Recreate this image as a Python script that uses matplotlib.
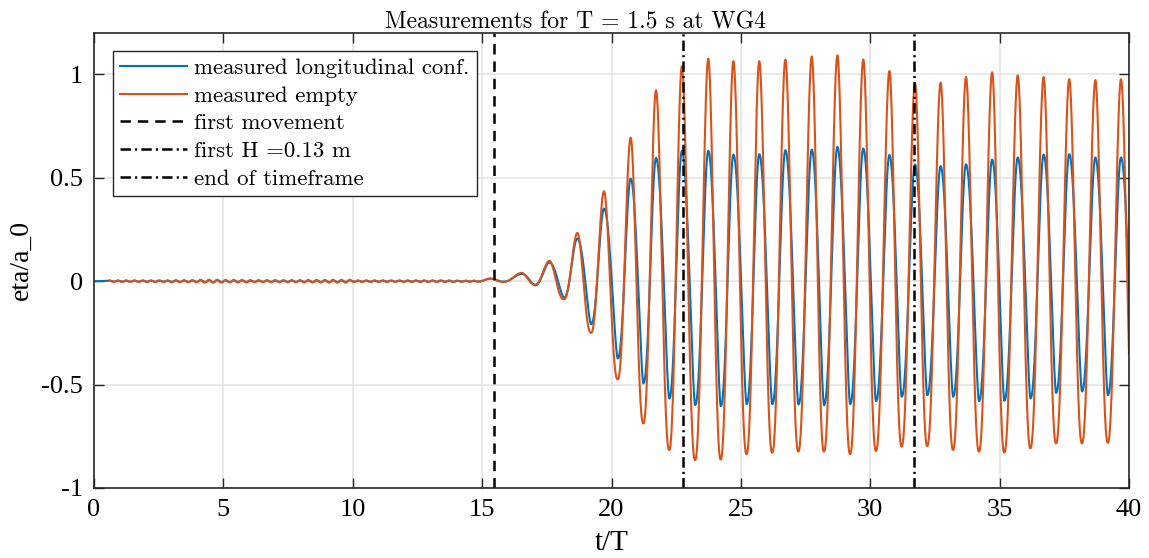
import numpy as np
import matplotlib
matplotlib.use("Agg")
import matplotlib.pyplot as plt
from matplotlib.lines import Line2D

# ---------------- data ----------------
# wave extrema (t/T, eta/a_0) – measured empty
empty_t = [15.30, 15.80, 16.53, 17.04, 17.60, 18.16, 18.68, 19.21, 19.71, 20.24,
           20.74, 21.23, 21.72, 22.23, 22.72, 23.23, 23.74, 24.22, 24.71, 25.22,
           25.71, 26.21, 26.72, 27.22, 27.74, 28.21, 28.73, 29.22, 29.73, 30.22,
           30.74, 31.21, 31.73, 32.20, 32.72, 33.20, 33.70, 34.20, 34.71, 35.18,
           35.70, 36.19, 36.70, 37.18, 37.69, 38.18, 38.70, 39.18, 39.69, 40.19]
empty_y = [0.013, -0.003, 0.040, -0.016, 0.098, -0.088, 0.233, -0.250, 0.435, -0.475,
           0.694, -0.688, 0.923, -0.816, 1.039, -0.865, 1.076, -0.862, 1.064, -0.836,
           1.064, -0.829, 1.071, -0.824, 1.087, -0.824, 1.092, -0.836, 1.072, -0.821,
           1.016, -0.800, 0.958, -0.797, 0.960, -0.816, 0.987, -0.824, 1.010, -0.828,
           0.995, -0.808, 0.987, -0.784, 0.977, -0.784, 0.972, -0.781, 0.977, -0.780]
# measured longitudinal configuration
long_t = empty_t
long_y = [0.012, -0.003, 0.035, -0.020, 0.090, -0.080, 0.206, -0.208, 0.351, -0.374,
          0.496, -0.494, 0.596, -0.567, 0.630, -0.599, 0.630, -0.604, 0.612, -0.594,
          0.614, -0.594, 0.633, -0.596, 0.636, -0.599, 0.649, -0.594, 0.641, -0.580,
          0.610, -0.559, 0.564, -0.551, 0.556, -0.559, 0.565, -0.580, 0.588, -0.578,
          0.598, -0.567, 0.612, -0.540, 0.614, -0.533, 0.598, -0.551, 0.598, -0.550]
# small still-water ripple before the first movement (amplitude per unit of t/T, t = 1..15)
ripple_amp = [0.004, 0.004, 0.004, 0.005, 0.007, 0.006, 0.005, 0.005, 0.006, 0.007,
              0.004, 0.004, 0.004, 0.004, 0.003]
ripple_start_empty = 0.6
ripple_half_period = 0.16

# event markers (t/T)
first_movement = 15.46
first_H = 22.76
end_timeframe = 31.69

title = "Measurements for T = 1.5 s at WG4"
xlabel = "t/T"
ylabel = "eta/a_0"
labels = ["measured longitudinal conf.", "measured empty", "first movement",
          "first H =0.13 m", "end of timeframe"]
xticks = [0, 5, 10, 15, 20, 25, 30, 35, 40]
yticks = [-1, -0.5, 0, 0.5, 1]
yticklabels = ["-1", "-0.5", "0", "0.5", "1"]

# ---------------- build curves through the extrema ----------------
def ripple_extrema(t0, scale):
    ts, ys = [], []
    t = t0
    sign = 1
    while t < 15.0:
        idx = min(int(t), len(ripple_amp) - 1)
        ts.append(t)
        ys.append(sign * ripple_amp[idx] * scale)
        sign = -sign
        t += ripple_half_period
    return ts, ys


def through_extrema(et, ey, t, rise_p, fall_p):
    et = np.asarray(et, float)
    ey = np.asarray(ey, float)
    i = np.clip(np.searchsorted(et, t, side="right") - 1, 0, len(et) - 2)
    t0, t1 = et[i], et[i + 1]
    y0, y1 = ey[i], ey[i + 1]
    s = np.clip((t - t0) / (t1 - t0), 0, 1)
    g = np.where(y1 > y0, s ** rise_p, 1 - (1 - s) ** fall_p)
    return y0 + (y1 - y0) * (1 - np.cos(np.pi * g)) / 2

rt, ry = ripple_extrema(ripple_start_empty, 1.0)
e_t = rt + list(empty_t)
e_y = ry + list(empty_y)
bt, by = ripple_extrema(ripple_start_empty, 0.6)
l_t = [0.0] + bt + list(long_t)
l_y = [0.0] + by + list(long_y)

t_e = np.linspace(ripple_start_empty, 40, 9000)
t_l = np.linspace(0, 40, 9000)
y_e = through_extrema(e_t, e_y, t_e, 1.15, 1.15)
y_l = through_extrema(l_t, l_y, t_l, 1.15, 0.8)

# ---------------- plot ----------------
plt.rcParams["lines.scale_dashes"] = False
serif = ["Liberation Serif", "DejaVu Serif"]
cm = ["cmr10", "Liberation Serif"]

fig = plt.figure(figsize=(11.49, 5.58), dpi=100)
ax = fig.add_axes([94 / 1149, 1 - 488 / 558, 1035 / 1149, 455 / 558])

blue = "#0072BD"
orange = "#D95319"

ax.plot(t_l, y_l, color=blue, lw=1.5)
ax.plot(t_e, y_e, color=orange, lw=1.5)
dash = (0, (7.5, 5.0))
dashdot = (0, (7.5, 3.0, 1.5, 3.0))
ax.axvline(first_movement, color="k", lw=1.8, linestyle=dash)
ax.axvline(first_H, color="k", lw=1.8, linestyle=dashdot)
ax.axvline(end_timeframe, color="k", lw=1.8, linestyle=dashdot)

ax.set_xlim(0, 40)
ax.set_ylim(-1, 1.2)
ax.set_xticks(xticks)
ax.set_xticklabels([str(v) for v in xticks], fontfamily=serif, fontsize=19)
ax.set_yticks(yticks)
ax.set_yticklabels(yticklabels, fontfamily=serif, fontsize=19)
ax.grid(True, color="#e3e3e3", lw=1.1)
ax.set_axisbelow(True)
ax.tick_params(direction="in", length=7.2, width=1.0, color="#262626",
               top=True, right=True, pad=8)
for sp in ax.spines.values():
    sp.set_color("#262626")
    sp.set_linewidth(1.2)

ax.set_title(title, fontfamily=cm, fontsize=17, pad=3, x=(575 - 94) / 1035)
ax.set_xlabel(xlabel, fontfamily=serif, fontsize=21)
ax.set_ylabel(ylabel, fontfamily=serif, fontsize=20)
ax.xaxis.set_label_coords(0.5, -(530 - 488) / 455)
ax.yaxis.set_label_coords(-(94 - 34) / 1035, 0.5)

handles = [Line2D([], [], color=blue, lw=1.5),
           Line2D([], [], color=orange, lw=1.5),
           Line2D([], [], color="k", lw=1.8, linestyle=dash),
           Line2D([], [], color="k", lw=1.8, linestyle=dashdot),
           Line2D([], [], color="k", lw=1.8, linestyle=dashdot)]
leg = ax.legend(handles, labels, loc="upper left",
                bbox_to_anchor=((113 - 94) / 1035, (488 - 50.7) / 455),
                borderaxespad=0, prop={"family": cm, "size": 16.4},
                handlelength=2.95, handletextpad=0.3, labelspacing=0.34,
                borderpad=0.32, fancybox=False, framealpha=1, edgecolor="#262626")
leg.get_frame().set_linewidth(1.0)

fig.savefig("out.png", dpi=100)
